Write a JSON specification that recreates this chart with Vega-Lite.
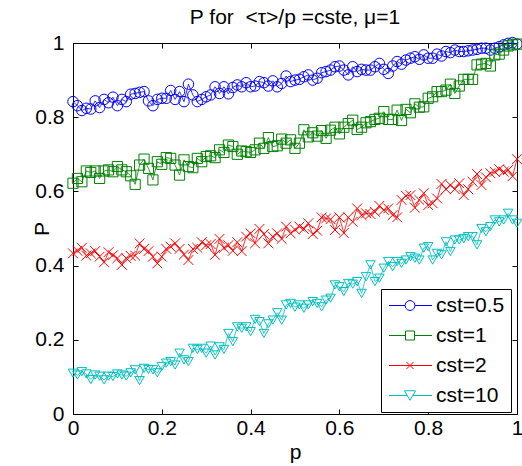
{
"$schema": "https://vega.github.io/schema/vega-lite/v6.json",
"width": 444, "height": 371,
"autosize": {"type": "none"},
"padding": {"left": 73, "top": 43, "right": 5, "bottom": 52},
"background": "white",
"config": {
  "font": "Liberation Sans",
  "view": {"stroke": "black", "strokeWidth": 1},
  "axis": {"grid": false, "domain": false, "labelFlush": false, "labelOverlap": false, "labelFont": "Liberation Sans", "labelFontSize": 21, "labelColor": "black", "tickColor": "black", "tickWidth": 1, "titleFont": "Liberation Sans", "titleFontSize": 21, "titleFontWeight": "normal", "titleColor": "black"},
  "legend": {"orient": "none", "legendX": 308, "legendY": 246, "title": null, "strokeColor": "black", "fillColor": "white", "padding": 6, "labelFont": "Liberation Sans", "labelFontSize": 21, "labelColor": "black", "labelOffset": 28, "rowPadding": 8, "symbolSize": 100, "symbolStrokeWidth": 1, "cornerRadius": 0}
},
"title": {"text": "P for \u00a0<τ>/p =cste, μ=1", "font": "Liberation Sans", "fontSize": 21, "fontWeight": "normal", "color": "black", "offset": 4},
"datasets": {"d": [
{"cst":"cst=0.5","p":0,"P":0.842},{"cst":"cst=0.5","p":0.01,"P":0.831},{"cst":"cst=0.5","p":0.02,"P":0.818},{"cst":"cst=0.5","p":0.03,"P":0.824},{"cst":"cst=0.5","p":0.04,"P":0.822},{"cst":"cst=0.5","p":0.05,"P":0.844},{"cst":"cst=0.5","p":0.06,"P":0.826},{"cst":"cst=0.5","p":0.07,"P":0.848},{"cst":"cst=0.5","p":0.08,"P":0.839},{"cst":"cst=0.5","p":0.09,"P":0.854},
{"cst":"cst=0.5","p":0.1,"P":0.831},{"cst":"cst=0.5","p":0.11,"P":0.848},{"cst":"cst=0.5","p":0.12,"P":0.842},{"cst":"cst=0.5","p":0.13,"P":0.862},{"cst":"cst=0.5","p":0.14,"P":0.864},{"cst":"cst=0.5","p":0.15,"P":0.867},{"cst":"cst=0.5","p":0.16,"P":0.869},{"cst":"cst=0.5","p":0.17,"P":0.844},{"cst":"cst=0.5","p":0.18,"P":0.831},{"cst":"cst=0.5","p":0.19,"P":0.848},
{"cst":"cst=0.5","p":0.2,"P":0.851},{"cst":"cst=0.5","p":0.21,"P":0.851},{"cst":"cst=0.5","p":0.22,"P":0.872},{"cst":"cst=0.5","p":0.23,"P":0.848},{"cst":"cst=0.5","p":0.24,"P":0.869},{"cst":"cst=0.5","p":0.25,"P":0.842},{"cst":"cst=0.5","p":0.26,"P":0.889},{"cst":"cst=0.5","p":0.27,"P":0.86},{"cst":"cst=0.5","p":0.28,"P":0.842},{"cst":"cst=0.5","p":0.29,"P":0.848},
{"cst":"cst=0.5","p":0.3,"P":0.855},{"cst":"cst=0.5","p":0.31,"P":0.86},{"cst":"cst=0.5","p":0.32,"P":0.882},{"cst":"cst=0.5","p":0.33,"P":0.864},{"cst":"cst=0.5","p":0.34,"P":0.882},{"cst":"cst=0.5","p":0.35,"P":0.863},{"cst":"cst=0.5","p":0.36,"P":0.88},{"cst":"cst=0.5","p":0.37,"P":0.887},{"cst":"cst=0.5","p":0.38,"P":0.882},{"cst":"cst=0.5","p":0.39,"P":0.893},
{"cst":"cst=0.5","p":0.4,"P":0.882},{"cst":"cst=0.5","p":0.41,"P":0.884},{"cst":"cst=0.5","p":0.42,"P":0.896},{"cst":"cst=0.5","p":0.43,"P":0.893},{"cst":"cst=0.5","p":0.44,"P":0.884},{"cst":"cst=0.5","p":0.45,"P":0.898},{"cst":"cst=0.5","p":0.46,"P":0.882},{"cst":"cst=0.5","p":0.47,"P":0.891},{"cst":"cst=0.5","p":0.48,"P":0.911},{"cst":"cst=0.5","p":0.49,"P":0.896},
{"cst":"cst=0.5","p":0.5,"P":0.9},{"cst":"cst=0.5","p":0.51,"P":0.902},{"cst":"cst=0.5","p":0.52,"P":0.909},{"cst":"cst=0.5","p":0.53,"P":0.914},{"cst":"cst=0.5","p":0.54,"P":0.9},{"cst":"cst=0.5","p":0.55,"P":0.905},{"cst":"cst=0.5","p":0.56,"P":0.92},{"cst":"cst=0.5","p":0.57,"P":0.923},{"cst":"cst=0.5","p":0.58,"P":0.927},{"cst":"cst=0.5","p":0.59,"P":0.936},
{"cst":"cst=0.5","p":0.6,"P":0.938},{"cst":"cst=0.5","p":0.61,"P":0.927},{"cst":"cst=0.5","p":0.62,"P":0.914},{"cst":"cst=0.5","p":0.63,"P":0.936},{"cst":"cst=0.5","p":0.64,"P":0.923},{"cst":"cst=0.5","p":0.65,"P":0.929},{"cst":"cst=0.5","p":0.66,"P":0.927},{"cst":"cst=0.5","p":0.67,"P":0.927},{"cst":"cst=0.5","p":0.68,"P":0.936},{"cst":"cst=0.5","p":0.69,"P":0.945},
{"cst":"cst=0.5","p":0.7,"P":0.929},{"cst":"cst=0.5","p":0.71,"P":0.918},{"cst":"cst=0.5","p":0.72,"P":0.938},{"cst":"cst=0.5","p":0.73,"P":0.95},{"cst":"cst=0.5","p":0.74,"P":0.943},{"cst":"cst=0.5","p":0.75,"P":0.954},{"cst":"cst=0.5","p":0.76,"P":0.959},{"cst":"cst=0.5","p":0.77,"P":0.963},{"cst":"cst=0.5","p":0.78,"P":0.956},{"cst":"cst=0.5","p":0.79,"P":0.968},
{"cst":"cst=0.5","p":0.8,"P":0.959},{"cst":"cst=0.5","p":0.81,"P":0.959},{"cst":"cst=0.5","p":0.82,"P":0.97},{"cst":"cst=0.5","p":0.83,"P":0.965},{"cst":"cst=0.5","p":0.84,"P":0.977},{"cst":"cst=0.5","p":0.85,"P":0.974},{"cst":"cst=0.5","p":0.86,"P":0.981},{"cst":"cst=0.5","p":0.87,"P":0.977},{"cst":"cst=0.5","p":0.88,"P":0.977},{"cst":"cst=0.5","p":0.89,"P":0.979},
{"cst":"cst=0.5","p":0.9,"P":0.981},{"cst":"cst=0.5","p":0.91,"P":0.983},{"cst":"cst=0.5","p":0.92,"P":0.986},{"cst":"cst=0.5","p":0.93,"P":0.986},{"cst":"cst=0.5","p":0.94,"P":0.981},{"cst":"cst=0.5","p":0.95,"P":0.986},{"cst":"cst=0.5","p":0.96,"P":0.99},{"cst":"cst=0.5","p":0.97,"P":0.995},{"cst":"cst=0.5","p":0.98,"P":0.999},{"cst":"cst=0.5","p":0.99,"P":1.001},{"cst":"cst=0.5","p":1,"P":0.997},
{"cst":"cst=1","p":0,"P":0.622},{"cst":"cst=1","p":0.01,"P":0.635},{"cst":"cst=1","p":0.02,"P":0.626},{"cst":"cst=1","p":0.03,"P":0.655},{"cst":"cst=1","p":0.04,"P":0.651},{"cst":"cst=1","p":0.05,"P":0.655},{"cst":"cst=1","p":0.06,"P":0.635},{"cst":"cst=1","p":0.07,"P":0.655},{"cst":"cst=1","p":0.08,"P":0.658},{"cst":"cst=1","p":0.09,"P":0.653},
{"cst":"cst=1","p":0.1,"P":0.667},{"cst":"cst=1","p":0.11,"P":0.658},{"cst":"cst=1","p":0.12,"P":0.653},{"cst":"cst=1","p":0.13,"P":0.642},{"cst":"cst=1","p":0.14,"P":0.619},{"cst":"cst=1","p":0.15,"P":0.671},{"cst":"cst=1","p":0.16,"P":0.687},{"cst":"cst=1","p":0.17,"P":0.662},{"cst":"cst=1","p":0.18,"P":0.631},{"cst":"cst=1","p":0.19,"P":0.68},
{"cst":"cst=1","p":0.2,"P":0.673},{"cst":"cst=1","p":0.21,"P":0.691},{"cst":"cst=1","p":0.22,"P":0.689},{"cst":"cst=1","p":0.23,"P":0.671},{"cst":"cst=1","p":0.24,"P":0.644},{"cst":"cst=1","p":0.25,"P":0.685},{"cst":"cst=1","p":0.26,"P":0.667},{"cst":"cst=1","p":0.27,"P":0.664},{"cst":"cst=1","p":0.28,"P":0.689},{"cst":"cst=1","p":0.29,"P":0.68},
{"cst":"cst=1","p":0.3,"P":0.694},{"cst":"cst=1","p":0.31,"P":0.696},{"cst":"cst=1","p":0.32,"P":0.691},{"cst":"cst=1","p":0.33,"P":0.712},{"cst":"cst=1","p":0.34,"P":0.705},{"cst":"cst=1","p":0.35,"P":0.725},{"cst":"cst=1","p":0.36,"P":0.721},{"cst":"cst=1","p":0.37,"P":0.7},{"cst":"cst=1","p":0.38,"P":0.709},{"cst":"cst=1","p":0.39,"P":0.707},
{"cst":"cst=1","p":0.4,"P":0.705},{"cst":"cst=1","p":0.41,"P":0.712},{"cst":"cst=1","p":0.42,"P":0.73},{"cst":"cst=1","p":0.43,"P":0.716},{"cst":"cst=1","p":0.44,"P":0.745},{"cst":"cst=1","p":0.45,"P":0.721},{"cst":"cst=1","p":0.46,"P":0.723},{"cst":"cst=1","p":0.47,"P":0.741},{"cst":"cst=1","p":0.48,"P":0.73},{"cst":"cst=1","p":0.49,"P":0.739},
{"cst":"cst=1","p":0.5,"P":0.716},{"cst":"cst=1","p":0.51,"P":0.73},{"cst":"cst=1","p":0.52,"P":0.766},{"cst":"cst=1","p":0.53,"P":0.747},{"cst":"cst=1","p":0.54,"P":0.758},{"cst":"cst=1","p":0.55,"P":0.749},{"cst":"cst=1","p":0.56,"P":0.764},{"cst":"cst=1","p":0.57,"P":0.743},{"cst":"cst=1","p":0.58,"P":0.765},{"cst":"cst=1","p":0.59,"P":0.773},
{"cst":"cst=1","p":0.6,"P":0.755},{"cst":"cst=1","p":0.61,"P":0.773},{"cst":"cst=1","p":0.62,"P":0.783},{"cst":"cst=1","p":0.63,"P":0.792},{"cst":"cst=1","p":0.64,"P":0.767},{"cst":"cst=1","p":0.65,"P":0.773},{"cst":"cst=1","p":0.66,"P":0.785},{"cst":"cst=1","p":0.67,"P":0.788},{"cst":"cst=1","p":0.68,"P":0.794},{"cst":"cst=1","p":0.69,"P":0.797},
{"cst":"cst=1","p":0.7,"P":0.815},{"cst":"cst=1","p":0.71,"P":0.794},{"cst":"cst=1","p":0.72,"P":0.794},{"cst":"cst=1","p":0.73,"P":0.819},{"cst":"cst=1","p":0.74,"P":0.791},{"cst":"cst=1","p":0.75,"P":0.821},{"cst":"cst=1","p":0.76,"P":0.812},{"cst":"cst=1","p":0.77,"P":0.836},{"cst":"cst=1","p":0.78,"P":0.827},{"cst":"cst=1","p":0.79,"P":0.828},
{"cst":"cst=1","p":0.8,"P":0.851},{"cst":"cst=1","p":0.81,"P":0.855},{"cst":"cst=1","p":0.82,"P":0.869},{"cst":"cst=1","p":0.83,"P":0.869},{"cst":"cst=1","p":0.84,"P":0.873},{"cst":"cst=1","p":0.85,"P":0.889},{"cst":"cst=1","p":0.86,"P":0.864},{"cst":"cst=1","p":0.87,"P":0.884},{"cst":"cst=1","p":0.88,"P":0.902},{"cst":"cst=1","p":0.89,"P":0.902},
{"cst":"cst=1","p":0.9,"P":0.902},{"cst":"cst=1","p":0.91,"P":0.941},{"cst":"cst=1","p":0.92,"P":0.943},{"cst":"cst=1","p":0.93,"P":0.945},{"cst":"cst=1","p":0.94,"P":0.938},{"cst":"cst=1","p":0.95,"P":0.968},{"cst":"cst=1","p":0.96,"P":0.97},{"cst":"cst=1","p":0.97,"P":0.981},{"cst":"cst=1","p":0.98,"P":0.992},{"cst":"cst=1","p":0.99,"P":0.995},{"cst":"cst=1","p":1,"P":0.997},
{"cst":"cst=2","p":0,"P":0.433},{"cst":"cst=2","p":0.01,"P":0.44},{"cst":"cst=2","p":0.02,"P":0.448},{"cst":"cst=2","p":0.03,"P":0.427},{"cst":"cst=2","p":0.04,"P":0.433},{"cst":"cst=2","p":0.05,"P":0.439},{"cst":"cst=2","p":0.06,"P":0.424},{"cst":"cst=2","p":0.07,"P":0.409},{"cst":"cst=2","p":0.08,"P":0.436},{"cst":"cst=2","p":0.09,"P":0.428},
{"cst":"cst=2","p":0.1,"P":0.42},{"cst":"cst=2","p":0.11,"P":0.402},{"cst":"cst=2","p":0.12,"P":0.42},{"cst":"cst=2","p":0.13,"P":0.426},{"cst":"cst=2","p":0.14,"P":0.427},{"cst":"cst=2","p":0.15,"P":0.46},{"cst":"cst=2","p":0.16,"P":0.445},{"cst":"cst=2","p":0.17,"P":0.439},{"cst":"cst=2","p":0.18,"P":0.424},{"cst":"cst=2","p":0.19,"P":0.406},
{"cst":"cst=2","p":0.2,"P":0.424},{"cst":"cst=2","p":0.21,"P":0.445},{"cst":"cst=2","p":0.22,"P":0.451},{"cst":"cst=2","p":0.23,"P":0.46},{"cst":"cst=2","p":0.24,"P":0.445},{"cst":"cst=2","p":0.25,"P":0.43},{"cst":"cst=2","p":0.26,"P":0.415},{"cst":"cst=2","p":0.27,"P":0.445},{"cst":"cst=2","p":0.28,"P":0.448},{"cst":"cst=2","p":0.29,"P":0.463},
{"cst":"cst=2","p":0.3,"P":0.455},{"cst":"cst=2","p":0.31,"P":0.458},{"cst":"cst=2","p":0.32,"P":0.429},{"cst":"cst=2","p":0.33,"P":0.472},{"cst":"cst=2","p":0.34,"P":0.448},{"cst":"cst=2","p":0.35,"P":0.455},{"cst":"cst=2","p":0.36,"P":0.44},{"cst":"cst=2","p":0.37,"P":0.463},{"cst":"cst=2","p":0.38,"P":0.439},{"cst":"cst=2","p":0.39,"P":0.478},
{"cst":"cst=2","p":0.4,"P":0.487},{"cst":"cst=2","p":0.41,"P":0.46},{"cst":"cst=2","p":0.42,"P":0.499},{"cst":"cst=2","p":0.43,"P":0.485},{"cst":"cst=2","p":0.44,"P":0.46},{"cst":"cst=2","p":0.45,"P":0.478},{"cst":"cst=2","p":0.46,"P":0.487},{"cst":"cst=2","p":0.47,"P":0.472},{"cst":"cst=2","p":0.48,"P":0.505},{"cst":"cst=2","p":0.49,"P":0.487},
{"cst":"cst=2","p":0.5,"P":0.497},{"cst":"cst=2","p":0.51,"P":0.505},{"cst":"cst=2","p":0.52,"P":0.499},{"cst":"cst=2","p":0.53,"P":0.514},{"cst":"cst=2","p":0.54,"P":0.485},{"cst":"cst=2","p":0.55,"P":0.494},{"cst":"cst=2","p":0.56,"P":0.53},{"cst":"cst=2","p":0.57,"P":0.527},{"cst":"cst=2","p":0.58,"P":0.525},{"cst":"cst=2","p":0.59,"P":0.496},
{"cst":"cst=2","p":0.6,"P":0.53},{"cst":"cst=2","p":0.61,"P":0.488},{"cst":"cst=2","p":0.62,"P":0.53},{"cst":"cst=2","p":0.63,"P":0.518},{"cst":"cst=2","p":0.64,"P":0.554},{"cst":"cst=2","p":0.65,"P":0.536},{"cst":"cst=2","p":0.66,"P":0.541},{"cst":"cst=2","p":0.67,"P":0.539},{"cst":"cst=2","p":0.68,"P":0.545},{"cst":"cst=2","p":0.69,"P":0.561},
{"cst":"cst=2","p":0.7,"P":0.55},{"cst":"cst=2","p":0.71,"P":0.554},{"cst":"cst=2","p":0.72,"P":0.536},{"cst":"cst=2","p":0.73,"P":0.53},{"cst":"cst=2","p":0.74,"P":0.577},{"cst":"cst=2","p":0.75,"P":0.588},{"cst":"cst=2","p":0.76,"P":0.59},{"cst":"cst=2","p":0.77,"P":0.556},{"cst":"cst=2","p":0.78,"P":0.577},{"cst":"cst=2","p":0.79,"P":0.595},
{"cst":"cst=2","p":0.8,"P":0.563},{"cst":"cst=2","p":0.81,"P":0.568},{"cst":"cst=2","p":0.82,"P":0.581},{"cst":"cst=2","p":0.83,"P":0.62},{"cst":"cst=2","p":0.84,"P":0.606},{"cst":"cst=2","p":0.85,"P":0.617},{"cst":"cst=2","p":0.86,"P":0.606},{"cst":"cst=2","p":0.87,"P":0.622},{"cst":"cst=2","p":0.88,"P":0.59},{"cst":"cst=2","p":0.89,"P":0.606},
{"cst":"cst=2","p":0.9,"P":0.626},{"cst":"cst=2","p":0.91,"P":0.647},{"cst":"cst=2","p":0.92,"P":0.617},{"cst":"cst=2","p":0.93,"P":0.638},{"cst":"cst=2","p":0.94,"P":0.649},{"cst":"cst=2","p":0.95,"P":0.653},{"cst":"cst=2","p":0.96,"P":0.66},{"cst":"cst=2","p":0.97,"P":0.653},{"cst":"cst=2","p":0.98,"P":0.658},{"cst":"cst=2","p":0.99,"P":0.641},{"cst":"cst=2","p":1,"P":0.687},
{"cst":"cst=10","p":0,"P":0.11},{"cst":"cst=10","p":0.01,"P":0.105},{"cst":"cst=10","p":0.02,"P":0.114},{"cst":"cst=10","p":0.03,"P":0.108},{"cst":"cst=10","p":0.04,"P":0.093},{"cst":"cst=10","p":0.05,"P":0.105},{"cst":"cst=10","p":0.06,"P":0.102},{"cst":"cst=10","p":0.07,"P":0.092},{"cst":"cst=10","p":0.08,"P":0.102},{"cst":"cst=10","p":0.09,"P":0.101},
{"cst":"cst=10","p":0.1,"P":0.108},{"cst":"cst=10","p":0.11,"P":0.105},{"cst":"cst=10","p":0.12,"P":0.102},{"cst":"cst=10","p":0.13,"P":0.111},{"cst":"cst=10","p":0.14,"P":0.119},{"cst":"cst=10","p":0.15,"P":0.09},{"cst":"cst=10","p":0.16,"P":0.123},{"cst":"cst=10","p":0.17,"P":0.12},{"cst":"cst=10","p":0.18,"P":0.119},{"cst":"cst=10","p":0.19,"P":0.111},
{"cst":"cst=10","p":0.2,"P":0.128},{"cst":"cst=10","p":0.21,"P":0.137},{"cst":"cst=10","p":0.22,"P":0.141},{"cst":"cst=10","p":0.23,"P":0.132},{"cst":"cst=10","p":0.24,"P":0.164},{"cst":"cst=10","p":0.25,"P":0.146},{"cst":"cst=10","p":0.26,"P":0.141},{"cst":"cst=10","p":0.27,"P":0.177},{"cst":"cst=10","p":0.28,"P":0.174},{"cst":"cst=10","p":0.29,"P":0.177},
{"cst":"cst=10","p":0.3,"P":0.164},{"cst":"cst=10","p":0.31,"P":0.183},{"cst":"cst=10","p":0.32,"P":0.159},{"cst":"cst=10","p":0.33,"P":0.181},{"cst":"cst=10","p":0.34,"P":0.174},{"cst":"cst=10","p":0.35,"P":0.217},{"cst":"cst=10","p":0.36,"P":0.195},{"cst":"cst=10","p":0.37,"P":0.235},{"cst":"cst=10","p":0.38,"P":0.231},{"cst":"cst=10","p":0.39,"P":0.235},
{"cst":"cst=10","p":0.4,"P":0.222},{"cst":"cst=10","p":0.41,"P":0.255},{"cst":"cst=10","p":0.42,"P":0.249},{"cst":"cst=10","p":0.43,"P":0.217},{"cst":"cst=10","p":0.44,"P":0.243},{"cst":"cst=10","p":0.45,"P":0.253},{"cst":"cst=10","p":0.46,"P":0.273},{"cst":"cst=10","p":0.47,"P":0.253},{"cst":"cst=10","p":0.48,"P":0.294},{"cst":"cst=10","p":0.49,"P":0.298},
{"cst":"cst=10","p":0.5,"P":0.288},{"cst":"cst=10","p":0.51,"P":0.294},{"cst":"cst=10","p":0.52,"P":0.285},{"cst":"cst=10","p":0.53,"P":0.294},{"cst":"cst=10","p":0.54,"P":0.303},{"cst":"cst=10","p":0.55,"P":0.298},{"cst":"cst=10","p":0.56,"P":0.289},{"cst":"cst=10","p":0.57,"P":0.307},{"cst":"cst=10","p":0.58,"P":0.312},{"cst":"cst=10","p":0.59,"P":0.348},
{"cst":"cst=10","p":0.6,"P":0.343},{"cst":"cst=10","p":0.61,"P":0.33},{"cst":"cst=10","p":0.62,"P":0.352},{"cst":"cst=10","p":0.63,"P":0.35},{"cst":"cst=10","p":0.64,"P":0.357},{"cst":"cst=10","p":0.65,"P":0.325},{"cst":"cst=10","p":0.66,"P":0.37},{"cst":"cst=10","p":0.67,"P":0.402},{"cst":"cst=10","p":0.68,"P":0.357},{"cst":"cst=10","p":0.69,"P":0.366},
{"cst":"cst=10","p":0.7,"P":0.393},{"cst":"cst=10","p":0.71,"P":0.411},{"cst":"cst=10","p":0.72,"P":0.397},{"cst":"cst=10","p":0.73,"P":0.411},{"cst":"cst=10","p":0.74,"P":0.406},{"cst":"cst=10","p":0.75,"P":0.415},{"cst":"cst=10","p":0.76,"P":0.424},{"cst":"cst=10","p":0.77,"P":0.42},{"cst":"cst=10","p":0.78,"P":0.415},{"cst":"cst=10","p":0.79,"P":0.447},
{"cst":"cst=10","p":0.8,"P":0.451},{"cst":"cst=10","p":0.81,"P":0.415},{"cst":"cst=10","p":0.82,"P":0.433},{"cst":"cst=10","p":0.83,"P":0.429},{"cst":"cst=10","p":0.84,"P":0.464},{"cst":"cst=10","p":0.85,"P":0.438},{"cst":"cst=10","p":0.86,"P":0.469},{"cst":"cst=10","p":0.87,"P":0.469},{"cst":"cst=10","p":0.88,"P":0.473},{"cst":"cst=10","p":0.89,"P":0.478},
{"cst":"cst=10","p":0.9,"P":0.478},{"cst":"cst=10","p":0.91,"P":0.456},{"cst":"cst=10","p":0.92,"P":0.5},{"cst":"cst=10","p":0.93,"P":0.491},{"cst":"cst=10","p":0.94,"P":0.505},{"cst":"cst=10","p":0.95,"P":0.523},{"cst":"cst=10","p":0.96,"P":0.518},{"cst":"cst=10","p":0.97,"P":0.523},{"cst":"cst=10","p":0.98,"P":0.541},{"cst":"cst=10","p":0.99,"P":0.523},{"cst":"cst=10","p":1,"P":0.514}
]},
"data": {"name": "d"},
"layer": [
  {
    "mark": {"type": "line", "strokeWidth": 0.8},
    "encoding": {
      "x": {"field": "p", "type": "quantitative", "scale": {"domain": [0, 1], "nice": false, "zero": false},
            "axis": {"orient": "bottom", "values": [0, 0.2, 0.4, 0.6, 0.8, 1], "format": "~g", "tickSize": -5, "labelPadding": 8, "title": "p", "titleBaseline": "alphabetic", "titleY": 44}},
      "y": {"field": "P", "type": "quantitative", "scale": {"domain": [0, 1], "nice": false, "zero": false},
            "axis": {"orient": "left", "values": [0, 0.2, 0.4, 0.6, 0.8, 1], "format": "~g", "tickSize": -5, "labelPadding": 14, "title": "P", "titleBaseline": "alphabetic", "titleX": -25, "titleY": 185.5}},
      "color": {"field": "cst", "type": "nominal", "scale": {"domain": ["cst=0.5", "cst=1", "cst=2", "cst=10"], "range": ["#0000FF", "#008000", "#FF0000", "#00BFBF"]}, "legend": null}
    }
  },
  {
    "mark": {"type": "point", "filled": false, "strokeWidth": 1, "opacity": 1},
    "encoding": {
      "x": {"field": "p", "type": "quantitative", "axis": {"orient": "top", "values": [0, 0.2, 0.4, 0.6, 0.8, 1], "labels": false, "tickSize": -5, "title": null}},
      "y": {"field": "P", "type": "quantitative", "axis": {"orient": "right", "values": [0, 0.2, 0.4, 0.6, 0.8, 1], "labels": false, "tickSize": -5, "title": null}},
      "color": {"field": "cst", "type": "nominal", "scale": {"domain": ["cst=0.5", "cst=1", "cst=2", "cst=10"], "range": ["#0000FF", "#008000", "#FF0000", "#00BFBF"]}, "legend": null},
      "shape": {"field": "cst", "type": "nominal", "scale": {"domain": ["cst=0.5", "cst=1", "cst=2", "cst=10"], "range": ["circle", "square", "M-1,-1L1,1M-1,1L1,-1", "triangle-down"]}, "legend": null},
      "size": {"field": "cst", "type": "nominal", "scale": {"domain": ["cst=0.5", "cst=1", "cst=2", "cst=10"], "range": [110, 90, 49, 130]}, "legend": null}
    }
  },
  {
    "transform": [{"filter": "datum.p > 5"}],
    "mark": {"type": "point", "filled": false, "strokeWidth": 1, "size": 100, "opacity": 1},
    "encoding": {
      "x": {"field": "p", "type": "quantitative", "axis": null},
      "y": {"field": "P", "type": "quantitative", "axis": null},
      "color": {"field": "cst", "type": "nominal", "scale": {"domain": ["cst=0.5", "cst=1", "cst=2", "cst=10"], "range": ["#0000FF", "#008000", "#FF0000", "#00BFBF"]}, "legend": {}},
      "shape": {"field": "cst", "type": "nominal",
        "scale": {"domain": ["cst=0.5", "cst=1", "cst=2", "cst=10"], "range": [
          "M-1.7,0L1.5,0M3.5,0L6.9,0M3.5,0L3.366,0.5L3,0.866L2.5,1L2,0.866L1.634,0.5L1.5,0L1.634,-0.5L2,-0.866L2.5,-1L3,-0.866L3.366,-0.5Z",
          "M-1.7,0L1.6,0M3.4,0L6.9,0M1.6,-0.9L3.4,-0.9L3.4,0.9L1.6,0.9Z",
          "M-1.7,0L6.9,0M1.8,-0.7L3.2,0.7M1.8,0.7L3.2,-0.7",
          "M-1.7,0L1.95,0M3.05,0L6.9,0M1.4,-0.95L3.6,-0.95L2.5,0.95Z"
        ]},
        "legend": {}
      }
    }
  }
],
"resolve": {"scale": {"shape": "independent", "size": "independent", "color": "independent"}, "legend": {"shape": "independent", "color": "independent"}, "axis": {"x": "independent", "y": "independent"}}
}
